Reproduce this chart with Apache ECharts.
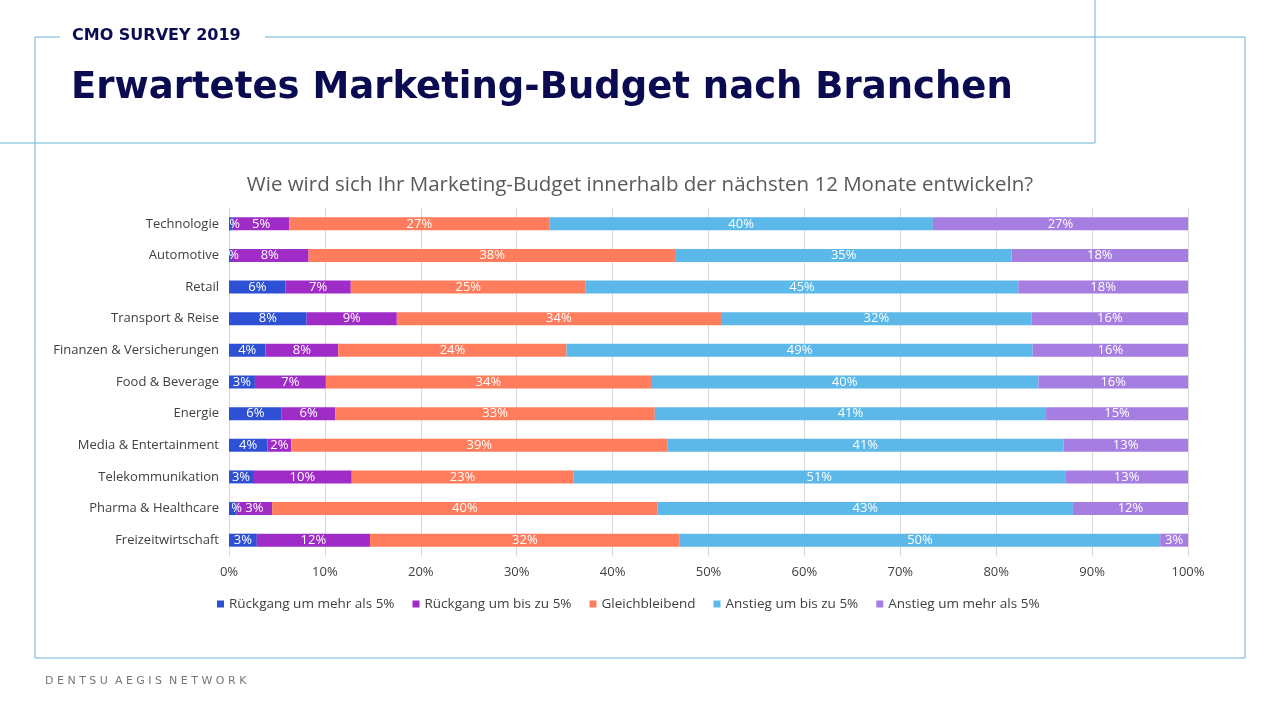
<!DOCTYPE html>
<html><head><meta charset="utf-8">
<script src="https://cdn.jsdelivr.net/npm/echarts@6/dist/echarts.min.js"></script>
<style>html,body{margin:0;padding:0;background:#fff}#c{width:1280px;height:720px}</style>
</head><body><div id="c"></div>
<script>
const categories = ['Technologie','Automotive','Retail','Transport & Reise','Finanzen & Versicherungen','Food & Beverage','Energie','Media & Entertainment','Telekommunikation','Pharma & Healthcare','Freizeitwirtschaft'];
const seriesNames = ['Rückgang um mehr als 5%','Rückgang um bis zu 5%','Gleichbleibend','Anstieg um bis zu 5%','Anstieg um mehr als 5%'];
// bar widths (percent)
const decreaseBig   = [0.4, 0.2, 5.9, 8.1, 3.8, 2.7, 5.5, 4.0, 2.5, 0.8, 2.9];
const decreaseSmall = [5.9, 8.1, 6.8, 9.4, 7.6, 7.4, 5.6, 2.5, 10.3, 3.7, 11.8];
const unchanged     = [27.1, 38.3, 24.5, 33.8, 23.8, 33.9, 33.3, 39.2, 23.1, 40.2, 32.3];
const increaseSmall = [40.0, 35.0, 45.1, 32.4, 48.6, 40.4, 40.8, 41.3, 51.3, 43.3, 50.1];
const increaseBig   = [26.6, 18.4, 17.7, 16.3, 16.2, 15.6, 14.8, 13.0, 12.8, 12.0, 2.9];
// printed labels
const lblDecreaseBig   = [0, 0, 6, 8, 4, 3, 6, 4, 3, 1, 3];
const lblDecreaseSmall = [5, 8, 7, 9, 8, 7, 6, 2, 10, 3, 12];
const lblUnchanged     = [27, 38, 25, 34, 24, 34, 33, 39, 23, 40, 32];
const lblIncreaseSmall = [40, 35, 45, 32, 49, 40, 41, 41, 51, 43, 50];
const lblIncreaseBig   = [27, 18, 18, 16, 16, 16, 15, 13, 13, 12, 3];
const xTicks = [0,10,20,30,40,50,60,70,80,90,100];

const colors = ['#2E50D4','#A02CC8','#FF7C5C','#5CB8E8','#A67EE2'];
const values = [decreaseBig, decreaseSmall, unchanged, increaseSmall, increaseBig];
const labels = [lblDecreaseBig, lblDecreaseSmall, lblUnchanged, lblIncreaseSmall, lblIncreaseBig];
const rev = a => a.slice().reverse();

const navy = '#0B0B52', frame = '#6BB5D6';
const chart = echarts.init(document.getElementById('c'));
chart.setOption({
  animation: false,
  title: {
    text: 'Wie wird sich Ihr Marketing-Budget innerhalb der nächsten 12 Monate entwickeln?',
    left: 'center', top: 170,
    textStyle: { fontFamily: 'Open Sans', fontSize: 20.5, fontWeight: 'normal', color: '#595959' }
  },
  legend: {
    data: seriesNames, left: 212, top: 592, itemWidth: 7, itemHeight: 7, itemGap: 18,
    icon: 'rect',
    textStyle: { fontFamily: 'Open Sans', fontSize: 13.5, color: '#404040' }
  },
  grid: { left: 229, right: 92, top: 208, bottom: 164 },
  xAxis: {
    type: 'value', min: 0, max: 100, interval: 10,
    axisLabel: { formatter: v => xTicks.includes(v) ? v + '%' : '', fontFamily: 'Open Sans', fontSize: 13, color: '#404040', margin: 10 },
    splitLine: { lineStyle: { color: '#D9D9D9' } },
    axisLine: { show: false }, axisTick: { show: false }
  },
  yAxis: {
    type: 'category', data: rev(categories),
    axisLabel: { fontFamily: 'Open Sans', fontSize: 13, color: '#404040', margin: 10 },
    axisLine: { lineStyle: { color: '#D9D9D9' } }, axisTick: { show: false }
  },
  series: seriesNames.map((name, s) => ({
    name, type: 'bar', stack: 'total', barWidth: 13,
    itemStyle: { color: colors[s] },
    data: rev(values[s]),
    label: {
      show: true, color: '#fff', fontFamily: 'Open Sans', fontSize: 13,
      formatter: p => rev(labels[s])[p.dataIndex] + '%'
    }
  })),
  graphic: [
    { type: 'polyline', shape: { points: [[60,37],[35,37],[35,658],[1245,658],[1245,37],[265,37]] }, style: { stroke: frame, fill: null, lineWidth: 1 } },
    { type: 'polyline', shape: { points: [[0,143],[1095,143],[1095,0]] }, style: { stroke: frame, fill: null, lineWidth: 1 } },
    { type: 'text', left: 72, top: 28, style: { text: 'CMO SURVEY 2019', fill: navy, font: 'bold 16px "DejaVu Sans"' } },
    { type: 'text', left: 71, top: 70, style: { text: 'Erwartetes Marketing-Budget nach Branchen', fill: navy, font: 'bold 37px "DejaVu Sans"' } },
    { type: 'text', left: 45, top: 676, style: { text: 'D E N T S U  A E G I S  N E T W O R K', fill: '#777', font: '11px "DejaVu Sans"' } }
  ]
});
</script></body></html>
